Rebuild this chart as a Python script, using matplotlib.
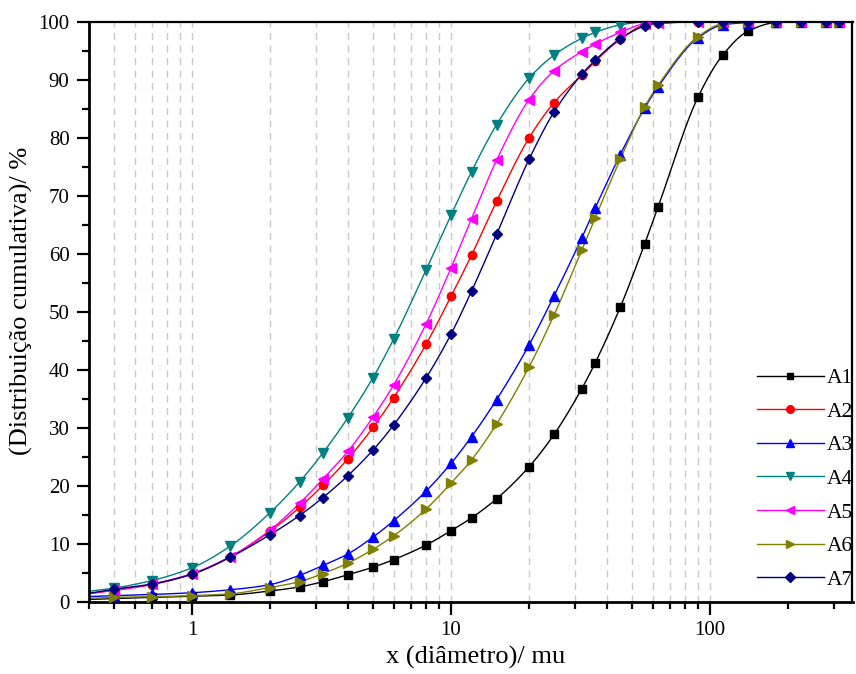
"""Cumulative particle size distribution, samples A1-A7."""

import matplotlib
matplotlib.use("Agg")
import matplotlib.pyplot as plt
import numpy as np
from matplotlib.ticker import LogLocator, MultipleLocator, FixedLocator, NullFormatter

plt.rcParams["font.family"] = ["Liberation Serif", "DejaVu Serif"]

# particle diameter (first point sits just left of the visible axis)
diameter = [0.375, 0.5, 0.7, 1, 1.4, 2, 2.6, 3.2, 4, 5, 6, 8, 10, 12, 15, 20, 25,
            32, 36, 45, 56, 63, 90, 112, 140, 180, 224, 280, 315]

a1 = [0.4, 0.6, 0.8, 1.0, 1.2, 1.9, 2.6, 3.5, 4.7, 6.0, 7.3, 9.8, 12.3, 14.5, 17.8,
      23.3, 28.9, 36.8, 41.2, 50.8, 61.8, 68.1, 87.1, 94.3, 98.4, 99.9, 100, 100, 100]
a2 = [1.3, 2.0, 3.0, 4.8, 7.7, 12.2, 16.3, 20.1, 24.7, 30.1, 35.2, 44.4, 52.7, 59.8,
      69.1, 80.0, 86.1, 90.9, 93.2, 97.0, 99.5, 99.8, 100, 100, 100, 100, 100, 100, 100]
a3 = [0.9, 1.1, 1.3, 1.6, 2.1, 3.0, 4.6, 6.3, 8.3, 11.2, 14.0, 19.1, 23.9, 28.5, 34.9,
      44.3, 52.8, 62.8, 67.9, 77.1, 85.2, 88.8, 97.3, 99.5, 99.9, 100, 100, 100, 100]
a4 = [1.7, 2.4, 3.7, 5.9, 9.6, 15.4, 20.7, 25.7, 31.8, 38.7, 45.3, 57.2, 66.7, 74.2,
      82.3, 90.3, 94.3, 97.2, 98.2, 99.5, 100, 100, 100, 100, 100, 100, 100, 100, 100]
a5 = [1.3, 2.0, 3.1, 4.9, 7.8, 12.4, 17.0, 21.2, 26.0, 31.9, 37.4, 47.9, 57.6, 66.1,
      76.2, 86.6, 91.6, 94.9, 96.2, 98.2, 99.7, 99.9, 100, 100, 100, 100, 100, 100, 100]
a6 = [0.6, 0.8, 0.9, 1.1, 1.4, 2.5, 3.5, 4.9, 6.7, 9.1, 11.4, 16.0, 20.5, 24.5, 30.7,
      40.5, 49.5, 60.7, 66.2, 76.3, 85.4, 89.1, 97.5, 99.7, 100, 100, 100, 100, 100]
a7 = [1.3, 2.2, 3.1, 4.8, 7.7, 11.6, 14.9, 18.0, 21.8, 26.2, 30.5, 38.6, 46.2, 53.6,
      63.4, 76.3, 84.5, 91.0, 93.4, 97.1, 99.3, 99.8, 100, 100, 100, 100, 100, 100, 100]

labels = ["A1", "A2", "A3", "A4", "A5", "A6", "A7"]
grid_x = [0.5, 0.6, 0.7, 0.8, 0.9, 1, 2, 3, 4, 5, 6, 7, 8, 9, 10,
          20, 30, 40, 50, 60, 70, 80, 90, 100]


def pchip(x, y, xs):
    """Monotone cubic (Fritsch-Carlson) through the points."""
    x = np.asarray(x, float)
    y = np.asarray(y, float)
    h = np.diff(x)
    d = np.diff(y) / h
    m = np.zeros_like(y)
    for k in range(1, len(x) - 1):
        if d[k - 1] * d[k] > 0:
            w1 = 2 * h[k] + h[k - 1]
            w2 = h[k] + 2 * h[k - 1]
            m[k] = (w1 + w2) / (w1 / d[k - 1] + w2 / d[k])
    m[0], m[-1] = d[0], d[-1]
    idx = np.clip(np.searchsorted(x, xs) - 1, 0, len(x) - 2)
    t = (xs - x[idx]) / h[idx]
    h00 = 2 * t**3 - 3 * t**2 + 1
    h10 = t**3 - 2 * t**2 + t
    h01 = -2 * t**3 + 3 * t**2
    h11 = t**3 - t**2
    return (h00 * y[idx] + h10 * h[idx] * m[idx]
            + h01 * y[idx + 1] + h11 * h[idx] * m[idx + 1])


fig = plt.figure(figsize=(8.56, 6.74), dpi=100)
ax = fig.add_axes([89 / 856, 1 - 602 / 674, (852.5 - 89) / 856, (602 - 22) / 674])

for gx in grid_x:
    ax.axvline(gx, color="#c8c8c8", linestyle=(0, (5, 4)), linewidth=1.0, zorder=0)

series = [a1, a2, a3, a4, a5, a6, a7]
colors = ["black", "red", "blue", "#008080", "magenta", "#808000", "#000080"]
markers = ["s", "o", "^", "v", "<", ">", "D"]
sizes = [5.5, 6, 6.5, 6.5, 6.5, 6.5, 5.5]

lx = np.log10(diameter)
xs = np.linspace(lx[0], lx[-1], 800)
for vals, lab, c, mk, ms in zip(series, labels, colors, markers, sizes):
    ax.plot(10**xs, pchip(lx, vals, xs), color=c, linewidth=1.0, zorder=2)
    ax.plot(diameter, vals, linestyle="none", marker=mk, markersize=ms,
            color=c, zorder=3)
    # legend proxy
    ax.plot([], [], color=c, linewidth=1.0, marker=mk, markersize=ms - 0.5, label=lab)

ax.set_xscale("log")
ax.set_xlim(0.4, 355)
ax.set_ylim(0, 100)

ax.xaxis.set_major_locator(FixedLocator([1, 10, 100]))
ax.xaxis.set_major_formatter(matplotlib.ticker.FixedFormatter(["1", "10", "100"]))
ax.xaxis.set_minor_locator(LogLocator(base=10, subs=np.arange(2, 10)))
ax.xaxis.set_minor_formatter(NullFormatter())
ax.yaxis.set_major_locator(MultipleLocator(10))
ax.yaxis.set_minor_locator(MultipleLocator(5))

ax.tick_params(which="major", direction="out", length=9, width=1.6, labelsize=15,
               top=False, right=False, pad=5)
ax.tick_params(which="minor", direction="out", length=5, width=1.6,
               top=False, right=False)
for side in ["left", "bottom"]:
    ax.spines[side].set_linewidth(2.0)
for side in ["top", "right"]:
    ax.spines[side].set_linewidth(1.6)

ax.set_xlabel("x (diâmetro)/ mu", fontsize=19)
ax.set_ylabel("(Distribuição cumulativa)/ %", fontsize=19)
ax.xaxis.set_label_coords(0.507, -0.076)
ax.yaxis.set_label_coords(-0.074, 0.519)

ax.legend(loc="upper left", bbox_to_anchor=(757 / 856, 1 - 368 / 674),
          bbox_transform=fig.transFigure, frameon=False, fontsize=15.5,
          borderpad=0, borderaxespad=0, handlelength=3.1, handletextpad=0.15,
          labelspacing=0.63)

fig.savefig("out.png", dpi=100)
plt.close(fig)
